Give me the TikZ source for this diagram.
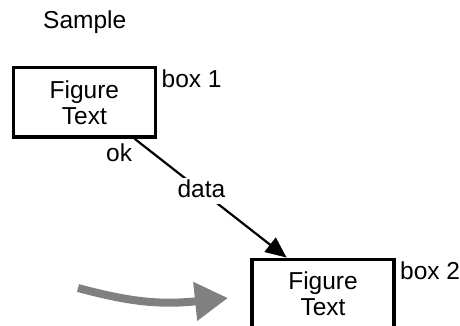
\documentclass[tikz,border=0pt]{standalone}
\usepackage{fontspec}
\setmainfont{Liberation Sans}
\usetikzlibrary{arrows.meta}
\begin{document}
\begin{tikzpicture}[x=1pt,y=-1pt,
  txt/.style={font=\fontsize{24.5}{26}\selectfont, inner sep=0pt},
  fbox/.style={draw, line width=3.3pt, minimum width=142pt, minimum height=69.5pt,
    inner sep=0pt, align=center, font=\fontsize{24.5}{26}\selectfont},
  conn/.style={line width=2.2pt, -{Triangle[length=21pt,width=18pt]}},
  bigarrow/.style={line width=8pt, gray, -{Triangle[length=33pt,width=37pt]}},
  lbl/.style={fill=white, inner sep=2pt, text depth=5pt, font=\fontsize{24.5}{26}\selectfont}
]
\useasboundingbox (0,0) rectangle (460,326);
\node[txt, anchor=base west] (title) at (43,29) {Sample};
\node[fbox] (box1) at (84.4,102.3) {Figure\\Text};
\node[fbox] (box2) at (323,294) {Figure\\Text};
\node[txt, anchor=base west] (lab1) at (161.5,88) {box 1};
\node[txt, anchor=base west] (lab2) at (400,279) {box 2};
\node[txt, anchor=base west] (ok) at (106,161) {ok};
\draw[conn] (box1.-36.8) -- node[lbl, pos=0.44] (data) {data} (box2.135);
\coordinate (gs) at (78,288);
\coordinate (ge) at (228,298);
\draw[bigarrow] (gs) .. controls (130,302) and (160,305) .. (ge);
\end{tikzpicture}
\end{document}
